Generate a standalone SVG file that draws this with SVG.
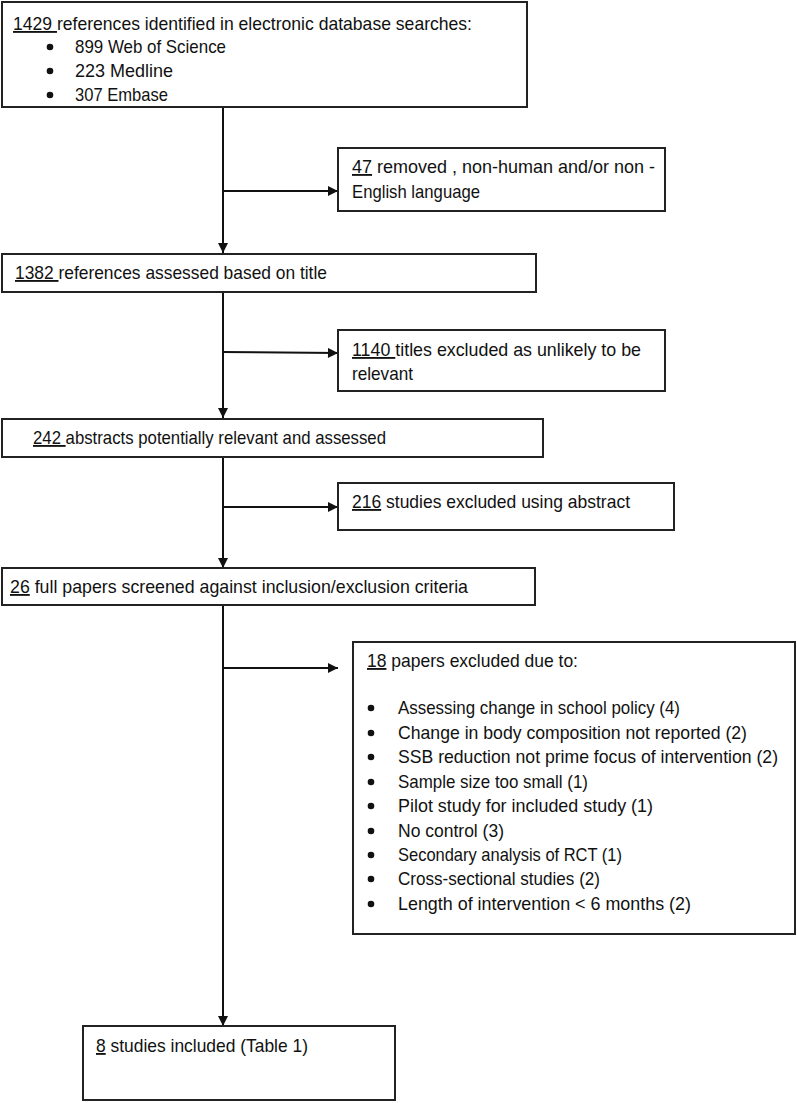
<svg xmlns="http://www.w3.org/2000/svg" width="797" height="1103" viewBox="0 0 797 1103">
<style>
.box{fill:#fff;stroke:#222;stroke-width:2}
.t{font-family:"Liberation Sans",Arial,sans-serif;font-size:18.5px;fill:#111}
.u{text-decoration:underline}
.con{stroke:#111;stroke-width:2;fill:none}
.dot{fill:#111}
</style>
<defs>
<marker id="ah" viewBox="0 0 10 10" refX="10" refY="5" markerWidth="11" markerHeight="10" markerUnits="userSpaceOnUse" orient="auto">
<path d="M0,0 L10,5 L0,10 Z" fill="#111"/>
</marker>
</defs>
<rect width="797" height="1103" fill="#fff"/>
<g id="connectors">
<line class="con" x1="223" y1="107" x2="223" y2="253" marker-end="url(#ah)"/>
<line class="con" x1="223" y1="191" x2="338" y2="191" marker-end="url(#ah)"/>
<line class="con" x1="223" y1="292" x2="223" y2="418" marker-end="url(#ah)"/>
<line class="con" x1="222" y1="352" x2="338" y2="353" marker-end="url(#ah)"/>
<line class="con" x1="223" y1="457" x2="223" y2="568" marker-end="url(#ah)"/>
<line class="con" x1="223" y1="507" x2="338" y2="507" marker-end="url(#ah)"/>
<line class="con" x1="223" y1="605" x2="223" y2="1026" marker-end="url(#ah)"/>
<line class="con" x1="223" y1="668" x2="338" y2="668" marker-end="url(#ah)"/>
</g>
<g id="n1">
<rect class="box" x="2" y="2" width="525" height="105"/>
<text class="t" x="13" y="30" textLength="459" lengthAdjust="spacingAndGlyphs"><tspan class="u">1429 </tspan>references identified in electronic database searches:</text>
<circle class="dot" cx="50" cy="47" r="3.3"/>
<circle class="dot" cx="50" cy="71" r="3.3"/>
<circle class="dot" cx="50" cy="95" r="3.3"/>
<text class="t" x="75" y="53" textLength="151" lengthAdjust="spacingAndGlyphs">899 Web of Science</text>
<text class="t" x="75" y="77" textLength="98" lengthAdjust="spacingAndGlyphs">223 Medline</text>
<text class="t" x="75" y="101" textLength="93" lengthAdjust="spacingAndGlyphs">307 Embase</text>
</g>
<g id="n2">
<rect class="box" x="338" y="148" width="327" height="63"/>
<text class="t" x="352" y="173" textLength="303" lengthAdjust="spacingAndGlyphs"><tspan class="u">47</tspan> removed , non-human and/or non -</text>
<text class="t" x="352" y="198" textLength="128" lengthAdjust="spacingAndGlyphs">English language</text>
</g>
<g id="n3">
<rect class="box" x="2" y="254" width="534" height="38"/>
<text class="t" x="15" y="279" textLength="312" lengthAdjust="spacingAndGlyphs"><tspan class="u">1382 </tspan>references assessed based on title</text>
</g>
<g id="n4">
<rect class="box" x="338" y="330" width="327" height="61"/>
<text class="t" x="352" y="356" textLength="289" lengthAdjust="spacingAndGlyphs"><tspan class="u">1140 </tspan>titles excluded as unlikely to be</text>
<text class="t" x="352" y="380" textLength="61" lengthAdjust="spacingAndGlyphs">relevant</text>
</g>
<g id="n5">
<rect class="box" x="2" y="419" width="541" height="38"/>
<text class="t" x="33" y="444" textLength="353" lengthAdjust="spacingAndGlyphs"><tspan class="u">242 </tspan>abstracts potentially relevant and assessed</text>
</g>
<g id="n6">
<rect class="box" x="338" y="483" width="336" height="47"/>
<text class="t" x="352" y="508" textLength="278" lengthAdjust="spacingAndGlyphs"><tspan class="u">216</tspan> studies excluded using abstract</text>
</g>
<g id="n7">
<rect class="box" x="2" y="568" width="533" height="37"/>
<text class="t" x="10" y="593" textLength="458" lengthAdjust="spacingAndGlyphs"><tspan class="u">26</tspan> full papers screened against inclusion/exclusion criteria</text>
</g>
<g id="n8">
<rect class="box" x="353" y="642" width="442" height="292"/>
<text class="t" x="367" y="667" textLength="211" lengthAdjust="spacingAndGlyphs"><tspan class="u">18</tspan> papers excluded due to:</text>
<circle class="dot" cx="371" cy="708" r="3.3"/>
<circle class="dot" cx="371" cy="733" r="3.3"/>
<circle class="dot" cx="371" cy="757" r="3.3"/>
<circle class="dot" cx="371" cy="782" r="3.3"/>
<circle class="dot" cx="371" cy="806" r="3.3"/>
<circle class="dot" cx="371" cy="831" r="3.3"/>
<circle class="dot" cx="371" cy="855" r="3.3"/>
<circle class="dot" cx="371" cy="879" r="3.3"/>
<circle class="dot" cx="371" cy="904" r="3.3"/>
<text class="t" x="398" y="714" textLength="282" lengthAdjust="spacingAndGlyphs">Assessing change in school policy (4)</text>
<text class="t" x="398" y="739" textLength="349" lengthAdjust="spacingAndGlyphs">Change in body composition not reported (2)</text>
<text class="t" x="398" y="763" textLength="380" lengthAdjust="spacingAndGlyphs">SSB reduction not prime focus of intervention (2)</text>
<text class="t" x="398" y="788" textLength="190" lengthAdjust="spacingAndGlyphs">Sample size too small (1)</text>
<text class="t" x="398" y="812" textLength="255" lengthAdjust="spacingAndGlyphs">Pilot study for included study (1)</text>
<text class="t" x="398" y="837" textLength="106" lengthAdjust="spacingAndGlyphs">No control (3)</text>
<text class="t" x="398" y="861" textLength="224" lengthAdjust="spacingAndGlyphs">Secondary analysis of RCT (1)</text>
<text class="t" x="398" y="885" textLength="202" lengthAdjust="spacingAndGlyphs">Cross-sectional studies (2)</text>
<text class="t" x="398" y="910" textLength="293" lengthAdjust="spacingAndGlyphs">Length of intervention &lt; 6 months (2)</text>
</g>
<g id="n9">
<rect class="box" x="83" y="1026" width="312" height="74"/>
<text class="t" x="96" y="1052" textLength="212" lengthAdjust="spacingAndGlyphs"><tspan class="u">8</tspan> studies included (Table 1)</text>
</g>
</svg>
